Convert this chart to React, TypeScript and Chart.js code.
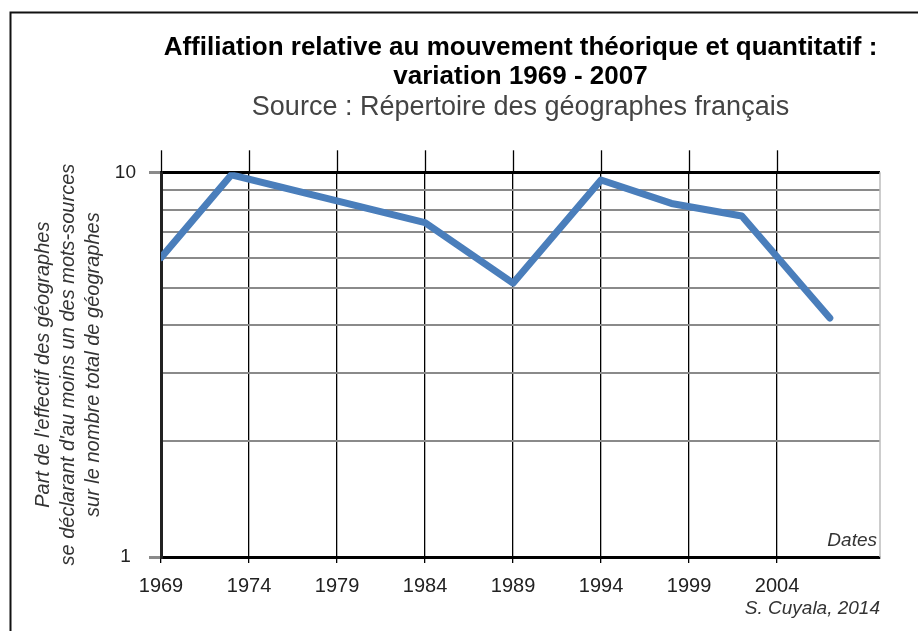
import React, { useEffect, useRef } from "react";
import { Chart, registerables } from "chart.js";

Chart.register(...registerables);

// ---- data ----
const years = [1969, 1973, 1984, 1989, 1994, 1998, 2002, 2007];
const shares = [6.0, 9.85, 7.4, 5.15, 9.55, 8.3, 7.7, 4.18];
const xTickYears = [1969, 1974, 1979, 1984, 1989, 1994, 1999, 2004];
const yGridValues = [1, 2, 3, 4, 5, 6, 7, 8, 9, 10];
const yLabelValues = [1, 10];
const titleLines = [
  "Affiliation relative au mouvement théorique et quantitatif :",
  "variation 1969 - 2007",
];
const subtitleText = "Source : Répertoire des géographes français";
const yTitleLines = [
  "Part de l'effectif des géographes",
  "se déclarant d'au moins un des mots-sources",
  "sur le nombre total de géographes",
];
const xAxisName = "Dates";
const creditText = "S. Cuyala, 2014";

const FONT = "'Liberation Sans', Arial, sans-serif";

const decor = {
  id: "decor",
  beforeDraw(chart: any) {
    const ctx = chart.ctx;
    ctx.save();
    ctx.fillStyle = "#fff";
    ctx.fillRect(0, 0, chart.width, chart.height);
    ctx.strokeStyle = "#111";
    ctx.lineWidth = 2;
    ctx.beginPath();
    ctx.moveTo(10.5, chart.height);
    ctx.lineTo(10.5, 12.5);
    ctx.lineTo(chart.width, 12.5);
    ctx.stroke();
    ctx.restore();
  },
  beforeDatasetsDraw(chart: any) {
    const ctx = chart.ctx;
    const area = chart.chartArea;
    const xs = chart.scales.x;
    ctx.save();
    ctx.strokeStyle = "#000";
    ctx.lineWidth = 1.3;
    xTickYears.forEach((v) => {
      const px = Math.round(xs.getPixelForValue(v)) + 0.5;
      ctx.beginPath();
      ctx.moveTo(px, area.top - 22);
      ctx.lineTo(px, area.top);
      ctx.stroke();
    });
    ctx.strokeStyle = "#bdbdbd";
    ctx.lineWidth = 1.5;
    ctx.beginPath();
    ctx.moveTo(area.right, area.top);
    ctx.lineTo(area.right, area.bottom);
    ctx.stroke();
    ctx.restore();
  },
  afterDraw(chart: any) {
    const ctx = chart.ctx;
    const area = chart.chartArea;
    ctx.save();
    ctx.font = `italic 19px ${FONT}`;
    ctx.fillStyle = "#333";
    ctx.textAlign = "right";
    ctx.textBaseline = "alphabetic";
    ctx.fillText(xAxisName, area.right - 3, area.bottom - 11);
    ctx.restore();
  },
};

export default function App() {
  const ref = useRef<HTMLCanvasElement | null>(null);

  useEffect(() => {
    if (!ref.current) return;
    const isEdge = (v: any) => v === 10 || v === 1;
    const chart = new Chart(ref.current, {
      type: "line",
      data: {
        datasets: [
          {
            data: years.map((y, i) => ({ x: y, y: shares[i] })),
            borderColor: "#4a7ebb",
            backgroundColor: "#4a7ebb",
            borderWidth: 7,
            pointRadius: 0,
            tension: 0,
            borderCapStyle: "round",
            borderJoinStyle: "round",
          },
        ],
      },
      options: {
        responsive: false,
        animation: false,
        devicePixelRatio: 1,
        layout: { padding: { left: 0, right: 38, top: 0, bottom: 0 } },
        plugins: {
          legend: { display: false },
          tooltip: { enabled: false },
          title: {
            display: true,
            text: titleLines,
            fullSize: false,
            color: "#000",
            font: { family: FONT, size: 26, weight: "bold", lineHeight: 29 / 26 },
            padding: { top: 33.5, bottom: 0 },
          },
          subtitle: {
            display: true,
            text: subtitleText,
            fullSize: false,
            color: "#444",
            font: { family: FONT, size: 27, lineHeight: 30 / 27 },
            padding: { top: 1.5, bottom: 49.3 },
          },
        },
        scales: {
          x: {
            type: "linear",
            min: 1969,
            max: 2009.85,
            afterBuildTicks: (s: any) => {
              s.ticks = xTickYears.map((v) => ({ value: v }));
            },
            afterFit: (s: any) => {
              s.height = 74;
            },
            border: { color: "#000", width: 3 },
            grid: {
              color: "#000",
              lineWidth: 1.3,
              tickLength: 6,
              tickColor: "#000",
              tickWidth: 1.3,
            },
            ticks: {
              autoSkip: false,
              maxRotation: 0,
              callback: (v: any) => String(v),
              color: "#222",
              font: { family: FONT, size: 20 },
              padding: 11,
            },
            title: {
              display: true,
              text: creditText,
              align: "end",
              color: "#333",
              font: { family: FONT, size: 19, style: "italic", lineHeight: 1.2 },
              padding: { top: 0, bottom: 11 },
            },
          },
          y: {
            type: "logarithmic",
            min: 1,
            max: 10,
            afterBuildTicks: (s: any) => {
              s.ticks = yGridValues.map((v) => ({ value: v }));
            },
            afterFit: (s: any) => {
              s.width = 161;
            },
            border: { color: "#222", width: 3 },
            grid: {
              color: (c: any) => (isEdge(c.tick && c.tick.value) ? "#000" : "#8a8a8a"),
              lineWidth: (c: any) => (isEdge(c.tick && c.tick.value) ? 3 : 2),
              tickLength: 12,
              tickColor: (c: any) =>
                yLabelValues.includes(c.tick && c.tick.value) ? "#8a8a8a" : "rgba(0,0,0,0)",
              tickWidth: 3,
            },
            ticks: {
              autoSkip: false,
              crossAlign: "center",
              callback: (v: any) => (yLabelValues.includes(Number(v)) ? String(v) : ""),
              color: "#222",
              font: { family: FONT, size: 19 },
              padding: 13,
            },
            title: {
              display: true,
              text: yTitleLines,
              color: "#333",
              font: { family: FONT, size: 20, style: "italic", lineHeight: 25 / 20 },
              padding: { top: 30.5, bottom: 0 },
            },
          },
        },
      },
      plugins: [decor],
    } as any);
    return () => chart.destroy();
  }, []);

  return (
    <div style={{ position: "absolute", left: 0, top: 0, width: 918, height: 631 }}>
      <canvas ref={ref} width={918} height={631} style={{ display: "block" }} />
    </div>
  );
}
